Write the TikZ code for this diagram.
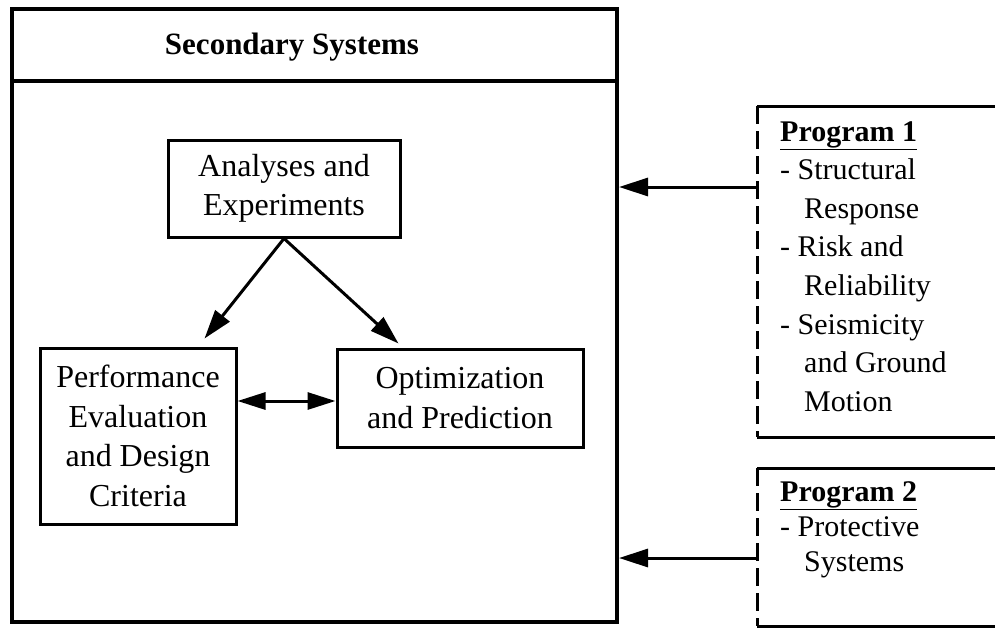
\documentclass[tikz,border=0pt]{standalone}
\usepackage{fontspec}
\setmainfont{Liberation Serif}
\usetikzlibrary{arrows.meta,calc}
\begin{document}
\begin{tikzpicture}[x=1pt,y=-1pt,
  frame/.style={draw, line width=4pt, inner sep=0pt},
  box/.style={draw, line width=3pt, inner sep=0pt, font=\fontsize{32}{39.5}\selectfont, align=center},
  progtext/.style={align=left, inner sep=0pt, anchor=north west},
  edge/.style={line width=3pt},
  dashedge/.style={line width=3pt, dash pattern=on 18pt off 7pt},
  arr/.style={line width=3pt, -{Triangle[length=29pt,width=18pt]}},
  darr/.style={line width=3pt, {Triangle[length=28pt,width=17pt]}-{Triangle[length=28pt,width=17pt]}},
]
\useasboundingbox (0,0) rectangle (995,630);

% main frame
\node[frame, minimum width=605pt, minimum height=613pt] (main) at (314.5,315.5) {};
\coordinate (sepy) at (0,81);
\draw[line width=4pt] (main.west |- sepy) -- (main.east |- sepy);
\node[font=\fontsize{31}{36}\selectfont\bfseries] (title) at (292,47) {Secondary Systems};

% inner boxes
\node[box, minimum width=232pt, minimum height=97pt] (ana) at (284,188.5) {Analyses and\\Experiments};
\node[box, minimum width=196pt, minimum height=176pt] (perf) at (138,436) {Performance\\Evaluation\\and Design\\Criteria};
\node[box, minimum width=246pt, minimum height=98pt] (opt) at (460,398) {Optimization\\and Prediction};

\draw[arr] (ana.south) -- ($(perf.north east)+(-33,-8)$);
\draw[arr] (ana.south) -- ($(opt.north west)+(63,-4)$);
\draw[darr] ($(perf.east |- opt.west)+(0,3)$) -- ($(opt.west)+(0,3)$);

% Program 1
\node[progtext, font=\fontsize{30}{38.6}\selectfont] (p1) at (780,121) {\underline{\textbf{Program 1}}\\
- Structural\\
\hspace*{24pt}Response\\
- Risk and\\
\hspace*{24pt}Reliability\\
- Seismicity\\
\hspace*{24pt}and Ground\\
\hspace*{24pt}Motion};
\coordinate (p1tl) at (757,106);
\coordinate (p1bl) at (757,437);
\draw[edge] (p1tl) -- (1000,106);
\draw[edge] (p1bl) -- (1000,437);
\draw[dashedge] (p1tl) -- (p1bl);
\coordinate (p1w) at (757,187);
\draw[arr] (p1w) -- (main.east |- p1w);

% Program 2
\node[progtext, font=\fontsize{30}{35}\selectfont] (p2) at (780,481) {\underline{\textbf{Program 2}}\\
- Protective\\
\hspace*{24pt}Systems};
\coordinate (p2tl) at (757,468);
\coordinate (p2bl) at (757,626);
\draw[edge] (p2tl) -- (1000,468);
\draw[edge] (p2bl) -- (1000,626);
\draw[dashedge] (p2tl) -- (p2bl);
\coordinate (p2w) at (757,558);
\draw[arr] (p2w) -- (main.east |- p2w);
\end{tikzpicture}
\end{document}
